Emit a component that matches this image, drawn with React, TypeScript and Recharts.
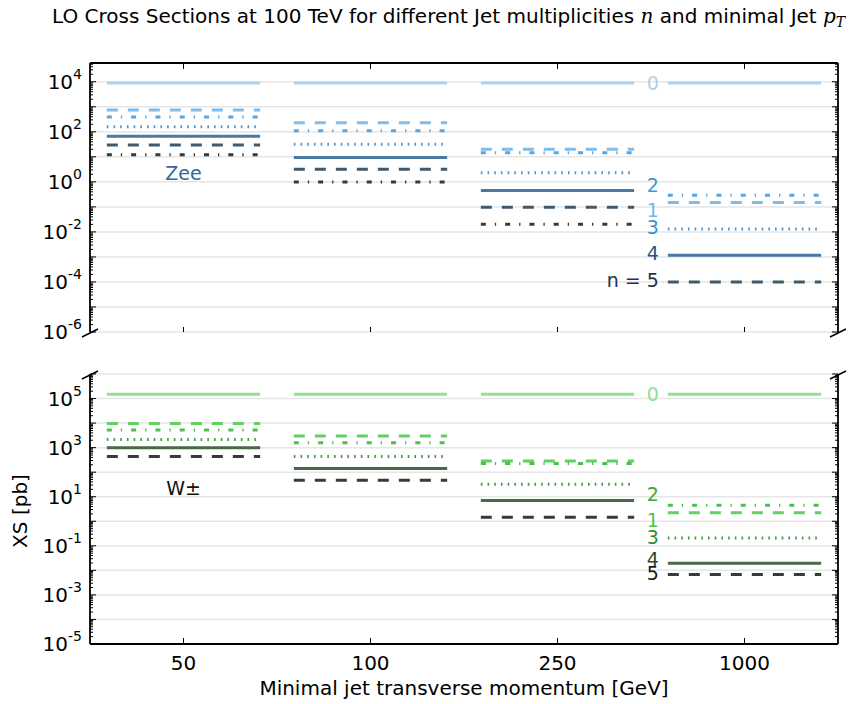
import React from 'react';
import { ComposedChart, Line, XAxis, YAxis, CartesianGrid, Scatter } from 'recharts';

// ---------------- data ----------------
const categories = ['50', '100', '250', '1000'];

// Zee: cross sections [pb] per jet multiplicity n, per minimal jet pT category
const zeeN0 = [9.0e3, 9.0e3, 9.0e3, 9.0e3];
const zeeN1 = [740, 230, 20, 0.15];
const zeeN2 = [390, 110, 14.5, 0.295];
const zeeN3 = [160, 32, 2.3, 0.0132];
const zeeN4 = [67, 9.5, 0.45, 0.00117];
const zeeN5 = [29.5, 3.2, 0.096, 1.0e-4];
const zeeN6 = [12, 0.98, 0.02, null];

// W±
const wN0 = [1.5e5, 1.5e5, 1.5e5, 1.5e5];
const wN1 = [9.7e3, 3.0e3, 283, 2.2];
const wN2 = [5.2e3, 1.6e3, 225, 4.5];
const wN3 = [2.15e3, 440, 32.5, 0.21];
const wN4 = [980, 142, 7.0, 0.0195];
const wN5 = [440, 47, 1.45, 0.0068];

// n-labels next to the 1000 GeV category
const zeeLabelText = ['0', '2', '1', '3', '4', 'n = 5'];
const zeeLabelY = [9.0e3, 0.74, 0.074, 0.0155, 0.0014, 1.17e-4];
const wLabelText = ['0', '2', '1', '3', '4', '5'];
const wLabelY = [1.5e5, 12.6, 1.1, 0.23, 0.028, 0.0076];

const zeeTagY = 2.2;
const wTagY = 22;

const zeeDomain = [1e-6, Math.pow(10, 4.75)];
const wDomain = [1e-5, 1e6];
const zeeLabeledExps = [-6, -4, -2, 0, 2, 4];
const wLabeledExps = [-5, -3, -1, 1, 3, 5];

// ---------------- styles ----------------
const zeeColors = ['#b0d4ee', '#7fbde8', '#5aa5dd', '#4f94cf', '#4a7aa1', '#3f5a6f', '#34393e'];
const wColors = ['#92e092', '#62d062', '#4cbf4c', '#3c9e3c', '#466b46', '#363d36'];
const zeeLabelColors = ['#aed1ea', '#3b97d9', '#72b6e4', '#3a8fd0', '#28557e', '#1c3450'];
const wLabelColors = ['#8fe08f', '#3aa83a', '#52c052', '#2f8f2f', '#2b4d2b', '#1a1a1a'];
const dashes = [undefined, '11 10', '5 9 1.3 9', '1.6 5.1', undefined, '11 10', '5 9 1.3 9'];

const HALF = 0.41;
const LABEL_X = categories.length - 1 - HALF;
const FONT = 'DejaVu Sans, sans-serif';

function buildRows(series: (number | null)[][]) {
  const rows: any[] = [];
  categories.forEach((_, i) => {
    const a: any = { x: i - HALF };
    const b: any = { x: i + HALF };
    const g: any = { x: i + 0.5 };
    series.forEach((s, n) => {
      a['n' + n] = s[i];
      b['n' + n] = s[i];
      g['n' + n] = null;
    });
    rows.push(a, b, g);
  });
  return rows;
}

function logTicks(domain: number[]) {
  const out: number[] = [];
  const lo = Math.floor(Math.log10(domain[0]));
  const hi = Math.ceil(Math.log10(domain[1]));
  for (let e = lo; e <= hi; e++) {
    for (let m = 1; m <= 9; m++) {
      const v = Number((m * Math.pow(10, e)).toPrecision(12));
      if (v >= domain[0] * 0.999999 && v <= domain[1] * 1.000001) out.push(v);
    }
  }
  return out;
}
function decades(domain: number[]) {
  const out: number[] = [];
  const lo = Math.ceil(Math.log10(domain[0]) - 1e-9);
  const hi = Math.floor(Math.log10(domain[1]) + 1e-9);
  for (let e = lo; e <= hi; e++) out.push(Number(Math.pow(10, e).toPrecision(12)));
  return out;
}
function splitVal(v: number) {
  const e = Math.floor(Math.log10(v) + 1e-9);
  const m = Math.round(v / Math.pow(10, e));
  return { e, m };
}

const makeLeftTick = (labeled: number[]) => (props: any) => {
  const { x, y, payload } = props;
  const { e, m } = splitVal(payload.value);
  const len = m === 1 ? 6 : 3;
  return (
    <g>
      <line x1={x} x2={x + len} y1={y} y2={y} stroke="#000" strokeWidth={1} />
      {m === 1 && labeled.includes(e) ? (
        <text x={x - 8} y={y} textAnchor="end" dominantBaseline="central" fontSize={20} fontFamily={FONT} fill="#000">
          10<tspan dy={-8} fontSize={14}>{String(e)}</tspan>
        </text>
      ) : null}
    </g>
  );
};
const rightTick = (props: any) => {
  const { x, y, payload } = props;
  const { m } = splitVal(payload.value);
  const len = m === 1 ? 6 : 3;
  return (
    <g>
      <line x1={x - len} x2={x} y1={y} y2={y} stroke="#000" strokeWidth={1} />
    </g>
  );
};
const bottomTickLabeled = (props: any) => {
  const { x, y, payload } = props;
  return (
    <g>
      <line x1={x} x2={x} y1={y} y2={y - 6} stroke="#000" strokeWidth={1} />
      <text x={x} y={y + 19} textAnchor="middle" dominantBaseline="central" fontSize={20} fontFamily={FONT} fill="#000">
        {categories[payload.value]}
      </text>
    </g>
  );
};
const bottomTickPlain = (props: any) => {
  const { x, y } = props;
  return <line x1={x} x2={x} y1={y} y2={y - 5} stroke="#000" strokeWidth={1} />;
};
const topTickPlain = (props: any) => {
  const { x, y } = props;
  return <line x1={x} x2={x} y1={y} y2={y + 6} stroke="#000" strokeWidth={1} />;
};

const textShape = (props: any) => {
  const { cx, cy, payload } = props;
  return (
    <text x={cx + (payload.dx || 0)} y={cy} textAnchor={payload.anchor} dominantBaseline="central" fontSize={19} fontFamily={FONT} fill={payload.color}>
      {payload.text}
    </text>
  );
};

type PanelProps = {
  series: (number | null)[][];
  colors: string[];
  domain: number[];
  labeled: number[];
  labelText: string[];
  labelY: number[];
  labelColors: string[];
  tag: string;
  tagY: number;
  tagColor: string;
  top: boolean;
  height: number;
  margin: any;
};

function Panel(p: PanelProps) {
  const rows = buildRows(p.series);
  const ticks = logTicks(p.domain);
  const grid = decades(p.domain);
  const labels = p.labelText.map((t, i) => ({ x: LABEL_X, y: p.labelY[i], text: t, color: p.labelColors[i], anchor: 'end', dx: -9 }));
  const tag = [{ x: 0, y: p.tagY, text: p.tag, color: p.tagColor, anchor: 'middle', dx: 0 }];
  const xTicks = categories.map((_, i) => i);
  const axisStroke = { stroke: '#000', strokeWidth: 1.8 };
  return (
    <ComposedChart width={856} height={p.height} data={rows} margin={p.margin}>
      <CartesianGrid
        xAxisId="b"
        yAxisId="l"
        vertical={false}
        horizontalValues={grid}
        stroke="#e6e6e6"
        strokeWidth={1.5}
      />
      <XAxis
        xAxisId="b"
        dataKey="x"
        type="number"
        domain={[-0.5, 3.5]}
        allowDataOverflow
        ticks={xTicks}
        interval={0}
        tickSize={0}
        tickMargin={0}
        tickLine={false}
        axisLine={p.top ? false : axisStroke}
        tick={p.top ? bottomTickPlain : bottomTickLabeled}
        height={p.top ? 13 : 60}
      />
      {p.top ? (
        <XAxis
          xAxisId="t"
          orientation="top"
          dataKey="x"
          type="number"
          domain={[-0.5, 3.5]}
          allowDataOverflow
          ticks={xTicks}
          interval={0}
          tickSize={0}
          tickMargin={0}
          tickLine={false}
          axisLine={axisStroke}
          tick={topTickPlain}
          height={1}
        />
      ) : null}
      <YAxis
        yAxisId="l"
        type="number"
        scale="log"
        domain={p.domain}
        allowDataOverflow
        ticks={ticks}
        interval={0}
        tickSize={0}
        tickMargin={0}
        tickLine={false}
        axisLine={axisStroke}
        tick={makeLeftTick(p.labeled)}
        width={60}
      />
      <YAxis
        yAxisId="r"
        orientation="right"
        type="number"
        scale="log"
        domain={p.domain}
        allowDataOverflow
        ticks={ticks}
        interval={0}
        tickSize={0}
        tickMargin={0}
        tickLine={false}
        axisLine={axisStroke}
        tick={rightTick}
        width={18}
      />
      {p.series.map((_, n) => (
        <Line
          key={'n' + n}
          xAxisId="b"
          yAxisId="l"
          type="linear"
          dataKey={'n' + n}
          stroke={p.colors[n]}
          strokeWidth={3}
          strokeDasharray={dashes[n]}
          strokeLinecap="butt"
          dot={false}
          activeDot={false}
          connectNulls={false}
          isAnimationActive={false}
        />
      ))}
      <Scatter xAxisId="b" yAxisId="l" data={labels} dataKey="y" shape={textShape} isAnimationActive={false} />
      <Scatter xAxisId="b" yAxisId="l" data={tag} dataKey="y" shape={textShape} isAnimationActive={false} />
    </ComposedChart>
  );
}

export default function App() {
  return (
    <div style={{ position: 'relative', width: 856, height: 704, background: '#fff', fontFamily: FONT }}>
      <style>{'body{margin:0}'}</style>
      <div style={{ position: 'absolute', left: 0, top: 0 }}>
        <Panel
          series={[zeeN0, zeeN1, zeeN2, zeeN3, zeeN4, zeeN5, zeeN6]}
          colors={zeeColors}
          domain={zeeDomain}
          labeled={zeeLabeledExps}
          labelText={zeeLabelText}
          labelY={zeeLabelY}
          labelColors={zeeLabelColors}
          tag="Zee"
          tagY={zeeTagY}
          tagColor="#2f6a98"
          top={true}
          height={345}
          margin={{ top: 62, right: 0, bottom: 0, left: 30 }}
        />
      </div>
      <div style={{ position: 'absolute', left: 0, top: 345 }}>
        <Panel
          series={[wN0, wN1, wN2, wN3, wN4, wN5]}
          colors={wColors}
          domain={wDomain}
          labeled={wLabeledExps}
          labelText={wLabelText}
          labelY={wLabelY}
          labelColors={wLabelColors}
          tag="W±"
          tagY={wTagY}
          tagColor="#111"
          top={false}
          height={359}
          margin={{ top: 29, right: 0, bottom: 0, left: 30 }}
        />
      </div>
      <svg width={856} height={704} style={{ position: 'absolute', left: 0, top: 0, pointerEvents: 'none' }}>
        <text x={52} y={23} fontSize={20} fontFamily={FONT} fill="#000">
          LO Cross Sections at 100 TeV for different Jet multiplicities{' '}
          <tspan fontFamily="DejaVu Serif, serif" fontStyle="italic">n</tspan> and minimal Jet{' '}
          <tspan fontFamily="DejaVu Serif, serif" fontStyle="italic">p</tspan>
          <tspan fontFamily="DejaVu Serif, serif" fontStyle="italic" fontSize={14} dy={4}>T</tspan>
        </text>
        <text x={464} y={688} textAnchor="middle" dominantBaseline="central" fontSize={20} fontFamily={FONT} fill="#000">
          Minimal jet transverse momentum [GeV]
        </text>
        <text x={20} y={511} transform="rotate(-90 20 511)" textAnchor="middle" dominantBaseline="central" fontSize={20} fontFamily={FONT} fill="#000">
          XS [pb]
        </text>
        <line x1={82} y1={337} x2={98} y2={329} stroke="#000" strokeWidth={1.5} />
        <line x1={830} y1={337} x2={846} y2={329} stroke="#000" strokeWidth={1.5} />
        <line x1={82} y1={379} x2={98} y2={371} stroke="#000" strokeWidth={1.5} />
        <line x1={830} y1={379} x2={846} y2={371} stroke="#000" strokeWidth={1.5} />
      </svg>
    </div>
  );
}
